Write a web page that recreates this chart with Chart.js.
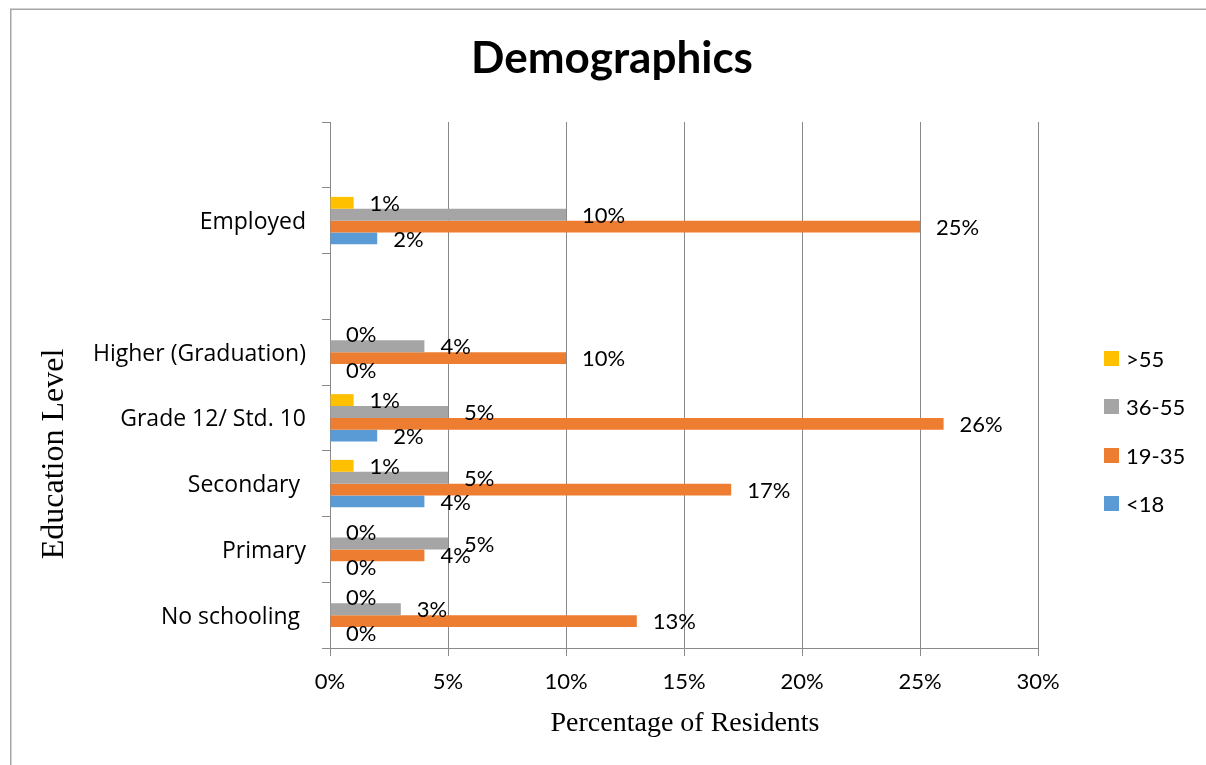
<!DOCTYPE html>
<html>
<head>
<meta charset="utf-8">
<script src="https://cdn.jsdelivr.net/npm/chart.js@4/dist/chart.umd.min.js"></script>
<style>
  html, body { margin: 0; padding: 0; background: #fff; }
  #wrap { width: 1206px; height: 765px; position: relative; }
</style>
</head>
<body>
<div id="wrap"><canvas id="c" width="1206" height="765"></canvas></div>
<script>
// ---- data ----
const categories = ["", "Employed", "", "Higher (Graduation)", "Grade 12/ Std. 10", "Secondary ", "Primary", "No schooling "];
const seriesNames = [">55", "36-55", "19-35", "<18"];
const over55   = [null, 1, null, 0, 1, 1, 0, 0];
const age36_55 = [null, 10, null, 4, 5, 5, 5, 3];
const age19_35 = [null, 25, null, 10, 26, 17, 4, 13];
const under18  = [null, 2, null, 0, 2, 4, 0, 0];
const xTicks = [0, 5, 10, 15, 20, 25, 30];
const chartTitle = "Demographics";
const xTitle = "Percentage of Residents";
const yTitle = "Education Level";
const colors = ["#FFC000", "#A5A5A5", "#ED7D31", "#5B9BD5"];

const GRID = "#898989";
const FONT = "Lato";

const labelPlugin = {
  id: 'valueLabels',
  afterDatasetsDraw(chart) {
    const ctx = chart.ctx;
    ctx.save();
    ctx.font = `22px ${FONT}`;
    ctx.fillStyle = "#000";
    ctx.textAlign = "left";
    ctx.textBaseline = "middle";
    chart.data.datasets.forEach((ds, di) => {
      const meta = chart.getDatasetMeta(di);
      meta.data.forEach((bar, i) => {
        const v = ds.data[i];
        if (v === null || v === undefined) return;
        ctx.fillText(v + "%", bar.x + 16, bar.y + 1);
      });
    });
    ctx.restore();
  }
};

const decorPlugin = {
  id: 'decor',
  beforeDraw(chart) {
    const ctx = chart.ctx;
    ctx.save();
    ctx.fillStyle = "#fff";
    ctx.fillRect(0, 0, chart.width, chart.height);
    ctx.strokeStyle = "#A6A6A6";
    ctx.lineWidth = 1.5;
    ctx.beginPath();
    ctx.moveTo(10.75, chart.height);
    ctx.lineTo(10.75, 9.25);
    ctx.lineTo(chart.width, 9.25);
    ctx.stroke();
    ctx.restore();
  },
  afterDraw(chart) {
    const ctx = chart.ctx;
    ctx.save();
    // title
    ctx.fillStyle = "#000";
    ctx.font = `bold 44px ${FONT}`;
    ctx.textAlign = "center";
    ctx.textBaseline = "alphabetic";
    ctx.fillText(chartTitle, 612, 73);
    // x title
    ctx.font = `28px "Liberation Serif"`;
    ctx.fillText(xTitle, 685, 731);
    // y title
    ctx.save();
    ctx.font = `32px "Liberation Serif"`;
    ctx.translate(63, 454);
    ctx.rotate(-Math.PI / 2);
    ctx.fillText(yTitle, 0, 0);
    ctx.restore();
    // legend
    ctx.font = `22px ${FONT}`;
    ctx.textAlign = "left";
    ctx.textBaseline = "middle";
    const legendY = [358.5, 406.5, 455.5, 503.5];
    chart.data.datasets.forEach((ds, i) => {
      const cy = legendY[i];
      ctx.fillStyle = ds.backgroundColor;
      ctx.fillRect(1104, cy - 7.5, 15, 15);
      ctx.fillStyle = "#000";
      ctx.fillText(ds.label, 1126, cy + 1);
    });
    ctx.restore();
  }
};

const datasets = [over55, age36_55, age19_35, under18].map((d, i) => ({
  label: seriesNames[i],
  data: d,
  backgroundColor: colors[i],
  borderWidth: 0,
  barPercentage: 1.0,
  categoryPercentage: 0.722
}));

new Chart(document.getElementById('c'), {
  type: 'bar',
  data: { labels: categories, datasets },
  options: {
    indexAxis: 'y',
    responsive: false,
    animation: false,
    devicePixelRatio: 1,
    layout: { padding: { left: 0, right: 168, top: 122, bottom: 57 } },
    plugins: {
      legend: { display: false },
      title: { display: false },
      tooltip: { enabled: false }
    },
    scales: {
      x: {
        min: 0, max: 30,
        afterFit(s) { s.height = 60; },
        afterBuildTicks(s) { s.ticks = xTicks.map(v => ({ value: v })); },
        ticks: {
          callback: v => v + "%",
          color: "#000",
          font: { family: FONT, size: 22 },
          padding: 13,
          maxRotation: 0
        },
        grid: { color: GRID, lineWidth: 1, tickLength: 8, drawTicks: true },
        border: { color: GRID, width: 1 }
      },
      y: {
        afterFit(s) { s.width = 330; },
        ticks: {
          color: "#000",
          font: { family: "Open Sans", size: 23 },
          padding: 16,
          labelOffset: 2,
          autoSkip: false
        },
        grid: { drawOnChartArea: false, drawTicks: true, tickLength: 8, offset: true, color: GRID },
        border: { color: GRID, width: 1 }
      }
    }
  },
  plugins: [decorPlugin, labelPlugin]
});
</script>
</body>
</html>
